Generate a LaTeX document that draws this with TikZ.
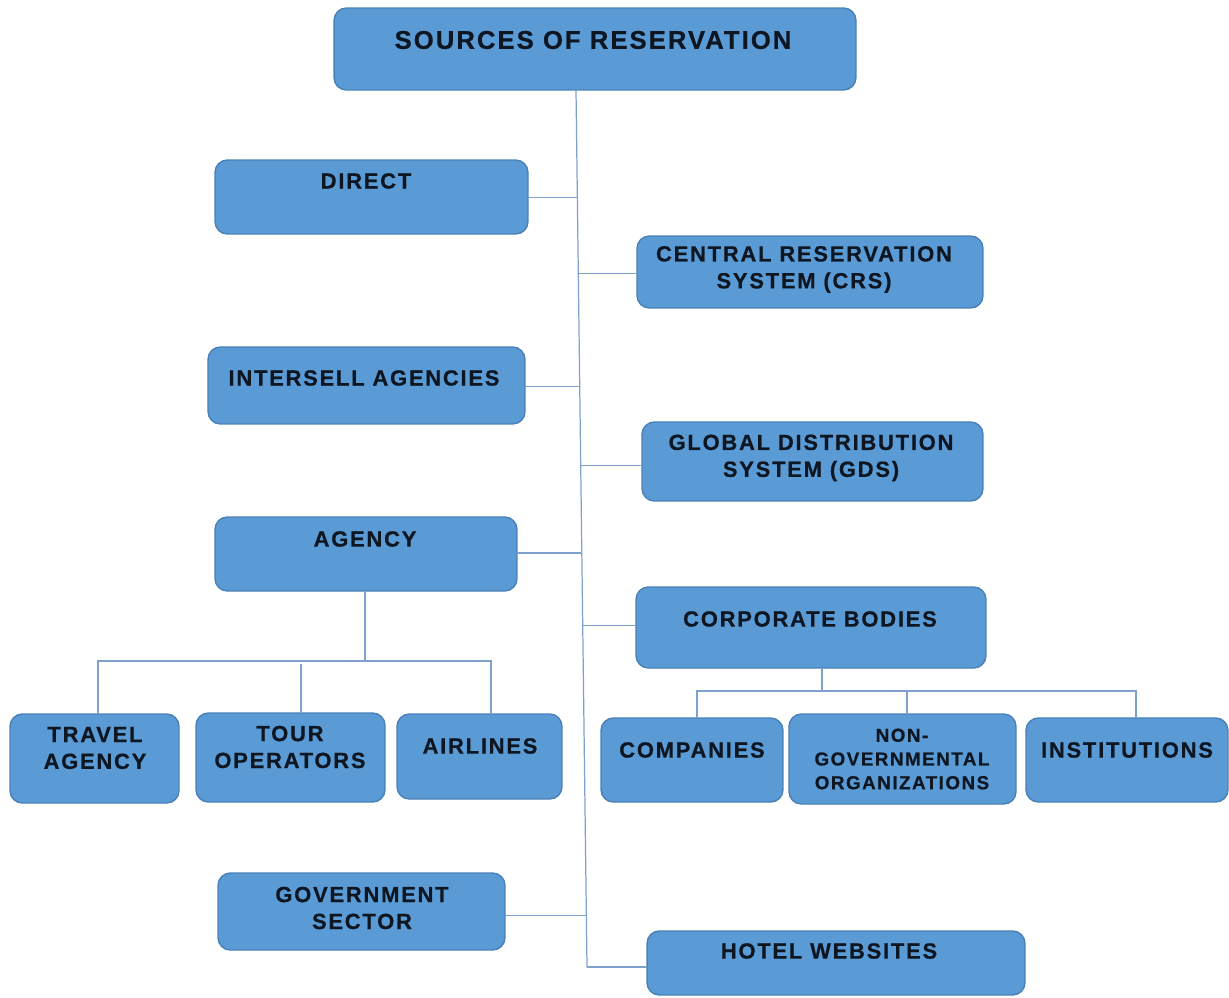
\documentclass[tikz,border=0pt]{standalone}
\usepackage{fontspec}
\setmainfont{Liberation Sans}
\newfontfamily\boxfont[LetterSpace=8, BoldFeatures={FakeBold=0.6}]{Liberation Sans}
\usetikzlibrary{calc,positioning}
\definecolor{boxblue}{HTML}{5B9BD5}
\definecolor{boxline}{HTML}{4A80B8}
\definecolor{linkcol}{HTML}{7FA2CC}
\definecolor{txtcol}{HTML}{0E1622}
\tikzset{
  box/.style={draw=boxline, fill=boxblue, line width=0.8pt, rounded corners=7pt,
    inner sep=0pt, outer sep=0pt},
  lbl/.style={font=\boxfont\bfseries\fontsize{12.5}{15.3}\selectfont, text=txtcol,
    align=center, inner sep=0pt},
  link/.style={draw=linkcol, line width=0.7pt}
}
\begin{document}
\begin{tikzpicture}[x=0.02cm, y=-0.02cm]
    \useasboundingbox (0,0) rectangle (1229,997);
    % boxes
    \node[box, minimum width=104.4mm, minimum height=16.4mm] (top) at (595,49) {};
    \node[box, minimum width=62.6mm, minimum height=14.8mm] (direct) at (371.5,197) {};
    \node[box, minimum width=69.2mm, minimum height=14.4mm] (crs) at (810,272) {};
    \node[box, minimum width=63.4mm, minimum height=15.4mm] (intersell) at (366.5,385.5) {};
    \node[box, minimum width=68.2mm, minimum height=15.8mm] (gds) at (812.5,461.5) {};
    \node[box, minimum width=60.4mm, minimum height=14.8mm] (agency) at (366,554) {};
    \node[box, minimum width=70.0mm, minimum height=16.2mm] (corporate) at (811,627.5) {};
    \node[box, minimum width=33.8mm, minimum height=17.8mm] (travel) at (94.5,758.5) {};
    \node[box, minimum width=37.8mm, minimum height=17.8mm] (tour) at (290.5,757.5) {};
    \node[box, minimum width=33.0mm, minimum height=17.0mm] (airlines) at (479.5,756.5) {};
    \node[box, minimum width=36.4mm, minimum height=16.8mm] (companies) at (692,760) {};
    \node[box, minimum width=45.4mm, minimum height=18.0mm] (ngo) at (902.5,759) {};
    \node[box, minimum width=40.4mm, minimum height=16.8mm] (institutions) at (1127,760) {};
    \node[box, minimum width=57.4mm, minimum height=15.4mm] (government) at (361.5,911.5) {};
    \node[box, minimum width=75.6mm, minimum height=12.8mm] (hotel) at (836,963) {};

    % texts
    \node[lbl, font=\boxfont\bfseries\fontsize{14.6}{17}\selectfont] (toptxt) at (593,40) {SOURCES OF RESERVATION};
    \node[lbl] (directtxt) at (366,181) {DIRECT};
    \node[lbl] (crstxt) at (804,269.5) {CENTRAL RESERVATION\\SYSTEM (CRS)};
    \node[lbl] (interselltxt) at (364,378) {INTERSELL AGENCIES};
    \node[lbl] (gdstxt) at (811,458) {GLOBAL DISTRIBUTION\\SYSTEM (GDS)};
    \node[lbl] (agencytxt) at (365,539) {AGENCY};
    \node[lbl] (corporatetxt) at (810,619) {CORPORATE BODIES};
    \node[lbl] (traveltxt) at (95,748) {TRAVEL\\AGENCY};
    \node[lbl] (tourtxt) at (290,747) {TOUR\\OPERATORS};
    \node[lbl] (airlinestxt) at (480,746) {AIRLINES};
    \node[lbl] (companiestxt) at (692,750) {COMPANIES};
    \node[lbl, font=\boxfont\bfseries\fontsize{10.7}{13.5}\selectfont] (ngotxt) at (902,759) {NON-\\GOVERNMENTAL\\ORGANIZATIONS};
    \node[lbl] (institutionstxt) at (1127,750) {INSTITUTIONS};
    \node[lbl] (governmenttxt) at (362,908) {GOVERNMENT\\SECTOR};
    \node[lbl] (hoteltxt) at (829,951) {HOTEL WEBSITES};

    % main trunk
    \coordinate (trunktop) at (576,90);
    \coordinate (trunkbot) at (587,967);
    \path (trunktop) -- (trunkbot)
      coordinate[pos=0.123] (tdirect)
      coordinate[pos=0.209] (tcrs)
      coordinate[pos=0.338] (tintersell)
      coordinate[pos=0.428] (tgds)
      coordinate[pos=0.528] (tagency)
      coordinate[pos=0.611] (tcorporate)
      coordinate[pos=0.941] (tgovernment);
    \draw[link] (trunktop) -- (trunkbot);
    \draw[link] (tdirect -| direct.east) -- (tdirect);
    \draw[link] (tcrs) -- (tcrs -| crs.west);
    \draw[link] (tintersell -| intersell.east) -- (tintersell);
    \draw[link] (tgds) -- (tgds -| gds.west);
    \draw[link] (tagency -| agency.east) -- (tagency);
    \draw[link] (tcorporate) -- (tcorporate -| corporate.west);
    \draw[link] (tgovernment -| government.east) -- (tgovernment);
    \draw[link] (trunkbot) -- (trunkbot -| hotel.west);

    % agency branch
    \coordinate (abus) at (365,661);
    \draw[link] (abus |- agency.south) -- (abus);
    \draw[link] ($(travel.north)+(3.5,0)$) |- ($(airlines.north)+(11.5,-53)$) -- ($(airlines.north)+(11.5,0)$);
    \draw[link] ($(tour.north)+(10.5,0)$) -- ++(0,-49);

    % corporate branch
    \coordinate (cbus) at (822,691);
    \draw[link] (cbus |- corporate.south) -- (cbus);
    \draw[link] ($(companies.north)+(5,0)$) |- ($(institutions.north)+(9,-27)$) -- ($(institutions.north)+(9,0)$);
    \draw[link] ($(ngo.north)+(4.5,0)$) -- ++(0,-23);
  \end{tikzpicture}
\end{document}
